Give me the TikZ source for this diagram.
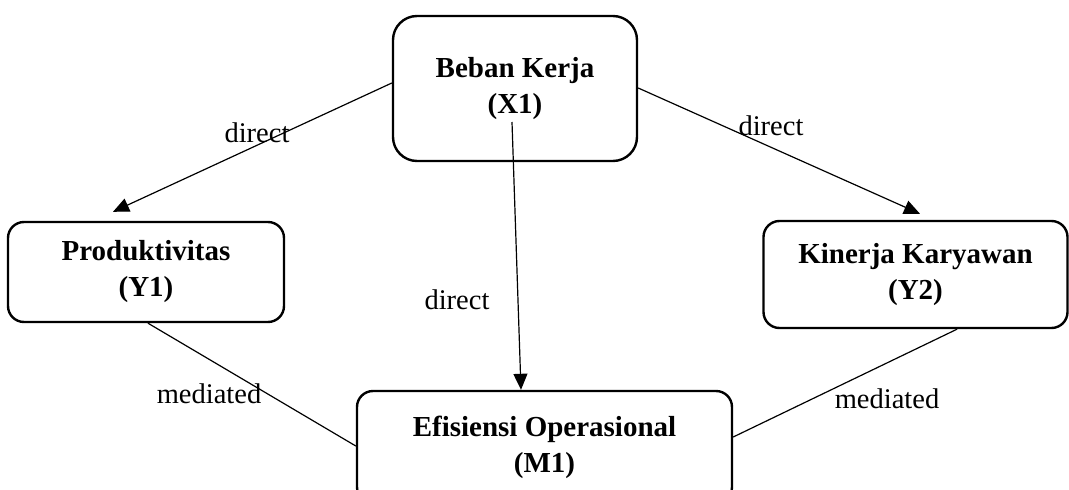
\documentclass[tikz,border=0pt]{standalone}
\usepackage{fontspec}
\setmainfont{Liberation Serif}
\usetikzlibrary{arrows.meta}
\begin{document}
\begin{tikzpicture}[x=1pt,y=-1pt,
  box/.style={draw,line width=2.4pt,align=center,inner sep=0pt,
    font=\fontsize{29}{36}\selectfont\bfseries},
  conn/.style={line width=1.2pt},
  arr/.style={conn,-{Triangle[length=16pt,width=14pt]}},
  lbl/.style={anchor=base,inner sep=0pt,font=\fontsize{28.5}{34}\selectfont}]
\useasboundingbox (0,0) rectangle (1069,490);
\clip (0,0) rectangle (1069,490);
\node[box,rounded corners=24pt,minimum width=244pt,minimum height=145pt] (X1) at (515,88.5) {Beban Kerja\\(X1)};
\node[box,rounded corners=16pt,minimum width=276pt,minimum height=100pt] (Y1) at (146,272) {Produktivitas\\(Y1)};
\node[box,rounded corners=16pt,minimum width=304pt,minimum height=107pt] (Y2) at (915.5,274.5) {Kinerja Karyawan\\(Y2)};
\node[box,rounded corners=16pt,minimum width=375pt,minimum height=112pt] (M1) at (544.5,447) {Efisiensi Operasional\\(M1)};
\draw[arr] ([yshift=5.5pt]X1.west) -- ([xshift=-33pt,yshift=9pt]Y1.north);
\draw[arr] ([yshift=0.5pt]X1.east) -- ([xshift=4.5pt,yshift=6pt]Y2.north);
\draw[arr] ([xshift=-3pt,yshift=-33.5pt]X1.center) -- ([xshift=-23.5pt]M1.north);
\draw[conn] ([xshift=2pt]Y1.south) -- ([yshift=1pt]M1.west);
\draw[conn] ([xshift=41.5pt]Y2.south) -- ([yshift=10pt]M1.east);
\node[lbl] (d1) at (257,142) {direct};
\node[lbl] (d2) at (771,135) {direct};
\node[lbl] (d3) at (457,309) {direct};
\node[lbl] (m1) at (209,403) {mediated};
\node[lbl] (m2) at (887,408) {mediated};
\end{tikzpicture}
\end{document}
